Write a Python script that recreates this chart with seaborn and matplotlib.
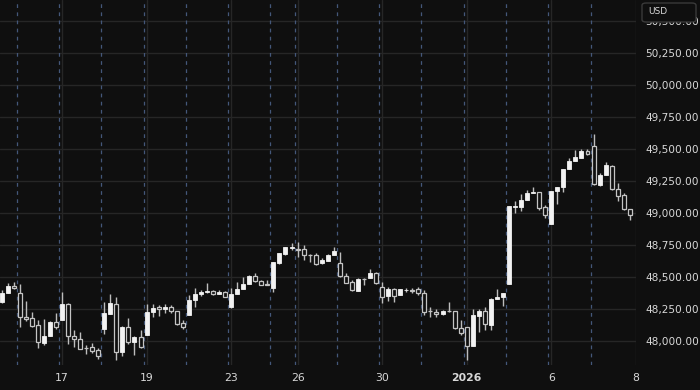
import matplotlib
matplotlib.use("Agg")
import matplotlib.pyplot as plt
from matplotlib.patches import FancyBboxPatch
import seaborn as sns
import numpy as np
import pandas as pd

# ---- data (hourly candles) ----
day_labels = ["15", "16", "17", "18", "19", "22", "23", "24", "26", "29", "30", "31", "2026", "5", "6", "7"]
candles_per_day = [3, 7, 7, 7, 7, 7, 7, 4, 7, 7, 7, 7, 7, 7, 7, 7]
shown_tick_days = ["17", "19", "23", "26", "30", "2026", "6", "8"]

opens = [48307, 48373, 48430,
         48373, 48185, 48177, 48125, 47987, 48039, 48151,
         48164, 48287, 48039, 48016, 47948, 47951, 47930,
         48094, 48211, 48287, 47916, 48107, 47995, 48029,
         48047, 48229, 48263, 48248, 48268, 48234, 48138,
         48203, 48320, 48365, 48383, 48391, 48367, 48383,
         48268, 48367, 48404, 48443, 48508, 48471, 48443,
         48412, 48607, 48680, 48724,
         48716, 48716, 48672, 48672, 48607, 48627, 48672,
         48607, 48510, 48459, 48393, 48487, 48490, 48534,
         48424, 48352, 48406, 48359, 48398, 48398, 48404,
         48373, 48234, 48229, 48211, 48234, 48234, 48104,
         48107, 47961, 48198, 48234, 48125, 48326, 48346,
         48443, 49049, 49049, 49102, 49159, 49162, 49049,
         48912, 49174, 49205, 49341, 49406, 49432, 49487,
         49526, 49219, 49297, 49370, 49185, 49141, 49031]
highs = [48398, 48451, 48459,
         48445, 48315, 48224, 48164, 48170, 48156, 48216,
         48380, 48294, 48086, 48070, 47969, 47987, 47948,
         48302, 48365, 48341, 48117, 48182, 48041, 48084,
         48287, 48287, 48281, 48287, 48281, 48234, 48164,
         48359, 48416, 48398, 48451, 48398, 48398, 48391,
         48412, 48463, 48500, 48516, 48529, 48477, 48477,
         48615, 48687, 48737, 48763,
         48771, 48750, 48680, 48685, 48648, 48680, 48732,
         48698, 48529, 48477, 48492, 48492, 48560, 48539,
         48463, 48422, 48414, 48406, 48416, 48414, 48422,
         48398, 48263, 48250, 48242, 48307, 48234, 48164,
         48107, 48250, 48250, 48268, 48334, 48404, 48377,
         49057, 49096, 49148, 49176, 49205, 49164, 49062,
         49174, 49205, 49344, 49427, 49492, 49500, 49498,
         49615, 49310, 49396, 49375, 49232, 49154, 49031]
lows = [48294, 48373, 48410,
        48112, 48159, 48107, 47943, 47966, 48039, 48091,
        48164, 47977, 47955, 47935, 47898, 47904, 47857,
        48055, 48211, 47852, 47885, 47974, 47891, 47943,
        48047, 48185, 48198, 48216, 48216, 48125, 48091,
        48203, 48268, 48354, 48373, 48359, 48367, 48344,
        48255, 48367, 48404, 48443, 48461, 48437, 48434,
        48385, 48602, 48674, 48711,
        48654, 48633, 48620, 48594, 48602, 48625, 48672,
        48502, 48453, 48393, 48391, 48437, 48490, 48445,
        48294, 48312, 48307, 48359, 48385, 48375, 48359,
        48203, 48190, 48190, 48205, 48229, 48094, 48047,
        47852, 47961, 48073, 48086, 48086, 48326, 48273,
        48443, 49002, 49018, 49102, 49154, 49023, 48958,
        48912, 49070, 49166, 49341, 49406, 49432, 49451,
        49219, 49211, 49297, 49180, 49094, 49023, 48945]
closes = [48377, 48430, 48412,
          48185, 48170, 48120, 47995, 48039, 48151, 48107,
          48287, 48039, 48013, 47940, 47943, 47924, 47885,
          48221, 48294, 47916, 48112, 47995, 48029, 47951,
          48229, 48260, 48250, 48263, 48234, 48133, 48112,
          48320, 48367, 48380, 48385, 48370, 48385, 48346,
          48367, 48406, 48445, 48508, 48471, 48437, 48437,
          48615, 48685, 48732, 48732,
          48709, 48672, 48670, 48602, 48633, 48672, 48703,
          48508, 48455, 48398, 48484, 48484, 48534, 48451,
          48341, 48406, 48354, 48404, 48400, 48391, 48373,
          48229, 48232, 48211, 48237, 48232, 48099, 48060,
          47961, 48203, 48234, 48130, 48326, 48346, 48377,
          49057, 49057, 49102, 49154, 49162, 49041, 48984,
          49174, 49205, 49344, 49409, 49435, 49484, 49459,
          49224, 49297, 49375, 49185, 49135, 49031, 48984]

y_ticks = [48000, 48250, 48500, 48750, 49000, 49250, 49500, 49750, 50000, 50250, 50500]

# ---- style ----
BG = "#0f0f0f"
GRID = "#262626"
DASH = "#44577a"
TXT = "#d8d8d8"
sns.set_theme(style="dark", rc={
    "axes.facecolor": BG, "figure.facecolor": BG,
    "axes.edgecolor": BG, "grid.color": GRID,
})
plt.rcParams["font.family"] = ["DejaVu Sans"]

df = pd.DataFrame({"open": opens, "high": highs, "low": lows, "close": closes})
df["x"] = np.arange(len(df))
df["up"] = df["close"] >= df["open"]

# day starts
starts = np.concatenate([[0], np.cumsum(candles_per_day)])
day_start = dict(zip(day_labels + ["8"], starts))

fig = plt.figure(figsize=(7, 3.9), dpi=100)
ax = fig.add_axes([0, 25 / 390, 636 / 700, 365 / 390])

# grid lines
for t in y_ticks:
    ax.axhline(t, color=GRID, lw=1, zorder=0)
tick_pos = [day_start[d] for d in shown_tick_days]
for t in tick_pos:
    ax.axvline(t, color=GRID, lw=1, zorder=0)
for d in day_labels[1:]:
    ax.axvline(day_start[d] - 0.5, color=DASH, lw=0.9, ls=(0, (3, 3.5)), zorder=0.5)

# wicks
ax.vlines(df["x"], df["low"], df["high"], color="#bdbdbd", lw=1, zorder=1)

# bodies
w = 0.66
bottoms = np.minimum(df["open"], df["close"])
heights = np.maximum(np.abs(df["close"] - df["open"]), 4)
up = df["up"].values
ax.bar(df["x"][up], heights[up], bottom=bottoms[up], width=w,
       color="#f2f2f2", edgecolor="#f2f2f2", lw=0.6, zorder=2)
ax.bar(df["x"][~up], heights[~up], bottom=bottoms[~up], width=w,
       color=BG, edgecolor="#c4c4c4", lw=0.9, zorder=2)

ax.set_xlim(-0.265, 105.03)
ax.set_ylim(47812.5, 50664)

ax.set_xticks(tick_pos)
ax.set_xticklabels(shown_tick_days)
for lbl in ax.get_xticklabels():
    if lbl.get_text() == "2026":
        lbl.set_fontweight("bold")
ax.yaxis.tick_right()
ax.set_yticks(y_ticks)
ax.set_yticklabels([f"{v:,.2f}" for v in y_ticks])
ax.tick_params(axis="y", length=0, pad=6.5, labelsize=7.6, colors=TXT)
ax.tick_params(axis="x", length=0, pad=5.5, labelsize=7.8, colors=TXT)
ax.grid(False)
for s in ax.spines.values():
    s.set_visible(False)

# currency badge
badge = FancyBboxPatch((642 / 700, 368 / 390), 54 / 700, 19 / 390,
                       boxstyle="round,pad=0,rounding_size=0.006",
                       transform=fig.transFigure, facecolor=BG,
                       edgecolor="#3a3a3a", lw=1, zorder=10)
fig.patches.append(badge)
fig.text(648 / 700, 378 / 390, "USD", color=TXT, fontsize=6.5,
         va="center", ha="left", zorder=11)

fig.savefig("out.png", dpi=100, facecolor=BG)
